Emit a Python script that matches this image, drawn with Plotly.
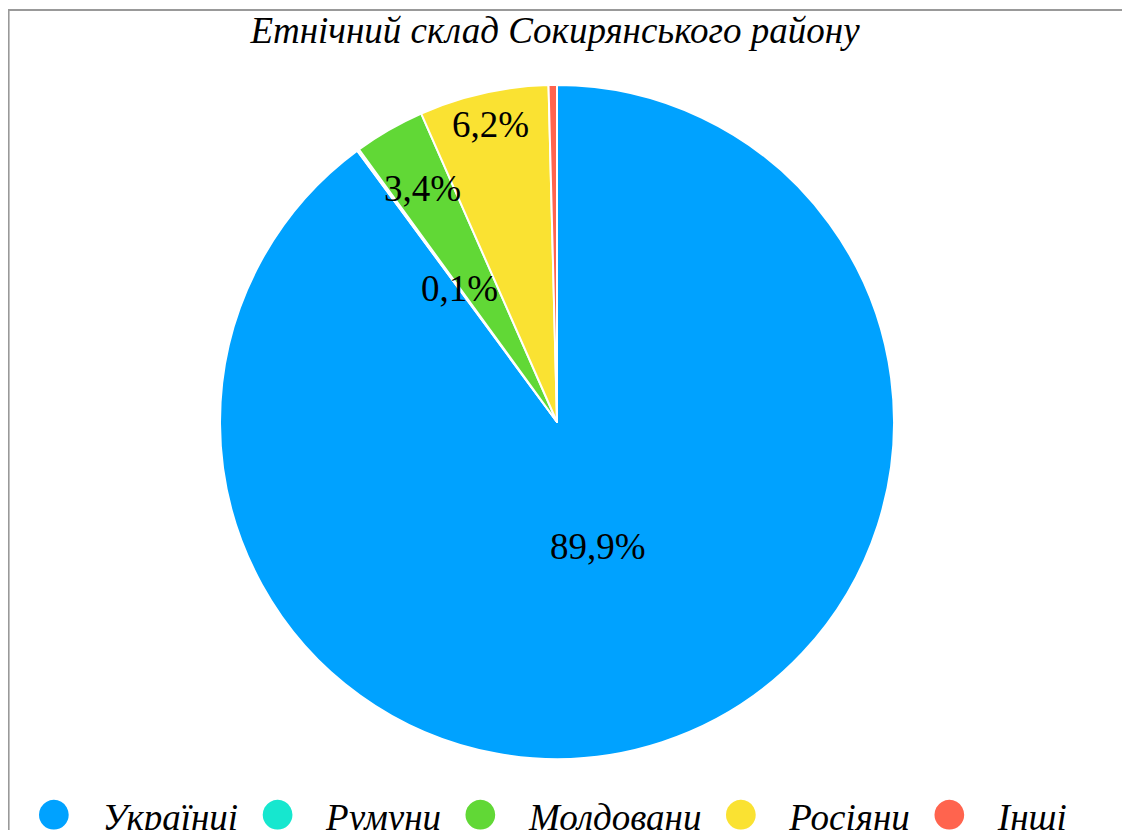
import math
import plotly.graph_objects as go

# ---- data ----
categories = ["Українці", "Румуни", "Молдовани", "Росіяни", "Інші"]
shares = [89.9, 0.1, 3.4, 6.2, 0.4]
shown_labels = [True, True, True, True, False]
colors = ["#00A2FF", "#16E7CF", "#61D836", "#FAE232", "#FF644E"]
title_text = "Етнічний склад Сокирянського району"

# ---- style / geometry (screen pixels; page body has an 8px margin) ----
OFF = 8
W, H = 1122, 822
CX, CY, R = 557, 422, 337
label_radius = [0.39, 0.49, 0.80, 0.905, 0.9]
SERIF = "Liberation Serif, Times New Roman, serif"


def px2x(px):
    return (px - OFF) / W


def py2y(py):
    return 1 - (py - OFF) / H


fig = go.Figure()
fig.add_trace(go.Pie(
    labels=categories,
    values=shares,
    marker=dict(colors=colors, line=dict(color="white", width=2)),
    sort=False,
    direction="clockwise",
    rotation=0,
    textinfo="none",
    hoverinfo="label+percent",
    showlegend=False,
    domain=dict(x=[px2x(CX - R), px2x(CX + R)], y=[py2y(CY + R), py2y(CY - R)]),
))

annotations = []
total = sum(shares)
cum = 0.0
for name, v, show, f in zip(categories, shares, shown_labels, label_radius):
    mid = (cum + v / 2) / total * 2 * math.pi
    cum += v
    if not show:
        continue
    px = CX + R * f * math.sin(mid)
    py = CY - R * f * math.cos(mid)
    annotations.append(dict(
        x=px2x(px), y=py2y(py), xref="paper", yref="paper",
        text=(f"{v:.1f}".replace(".", ",") + "%"),
        showarrow=False, xanchor="center", yanchor="middle",
        font=dict(family=SERIF, size=37, color="black"),
    ))

# legend row built from categories/colors
parts = []
for name, c in zip(categories, colors):
    parts.append(f"<span style='color:{c};font-size:69px;font-style:normal;baseline-shift:-4px'>●</span>"
                 + "&nbsp;" * 3 + name)
legend_text = ("&nbsp;" * 2).join(parts)
annotations.append(dict(
    x=px2x(550), y=py2y(811), xref="paper", yref="paper",
    text=legend_text, showarrow=False, xanchor="center", yanchor="middle",
    font=dict(family=SERIF, size=37, color="black", style="italic"),
))

fig.update_layout(
    width=W, height=H,
    margin=dict(l=0, r=0, t=0, b=0),
    paper_bgcolor="white",
    plot_bgcolor="white",
    title=dict(text=title_text, x=px2x(555), xanchor="center", y=py2y(30), yanchor="middle",
               font=dict(family=SERIF, size=37, color="black", style="italic")),
    annotations=annotations,
    shapes=[dict(type="rect", xref="paper", yref="paper",
                 x0=0.6 / W, x1=1.2, y0=-0.2, y1=py2y(10),
                 line=dict(color="#999999", width=2), layer="below")],
    showlegend=False,
)

fig.write_html("out.html")
